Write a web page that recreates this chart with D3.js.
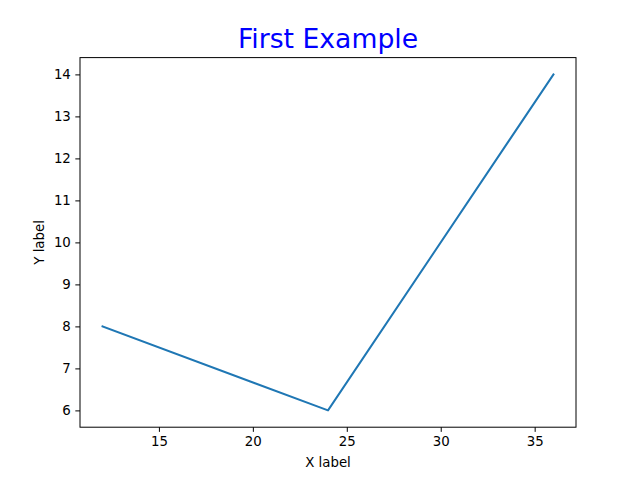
<!DOCTYPE html>
<html><head><meta charset="utf-8">
<script src="https://cdn.jsdelivr.net/npm/d3@7"></script>
<style>body{margin:0;background:#fff}svg text{font-family:"DejaVu Sans",sans-serif}</style>
</head><body>
<script>
const xValues = [12, 24, 36];
const yValues = [8, 6, 14];
const xTicks = [15, 20, 25, 30, 35];
const yTicks = [6, 7, 8, 9, 10, 11, 12, 13, 14];
const titleText = "First Example";
const xLabel = "X label";
const yLabel = "Y label";

const W = 640, H = 480;
const L = 80, R = 576, T = 57.6, B = 427.2;
const svg = d3.select("body").append("svg").attr("width", W).attr("height", H);

const xmin = d3.min(xValues), xmax = d3.max(xValues);
const ymin = d3.min(yValues), ymax = d3.max(yValues);
const xm = (xmax - xmin) * 0.05, ym = (ymax - ymin) * 0.05;
const x = d3.scaleLinear().domain([xmin - xm, xmax + xm]).range([L, R]);
const y = d3.scaleLinear().domain([ymin - ym, ymax + ym]).range([B, T]);

const data = xValues.map((v, i) => [v, yValues[i]]);
svg.append("path").datum(data)
  .attr("d", d3.line().x(d => x(d[0])).y(d => y(d[1])))
  .attr("fill", "none").attr("stroke", "#1f77b4").attr("stroke-width", 2)
  .attr("stroke-linecap", "square").attr("stroke-linejoin", "round");

const xa = svg.append("g").attr("transform", `translate(0,${B})`)
  .call(d3.axisBottom(x).tickValues(xTicks).tickSize(4.67).tickPadding(4.5).tickFormat(d3.format("d")));
const ya = svg.append("g").attr("transform", `translate(${L},0)`)
  .call(d3.axisLeft(y).tickValues(yTicks).tickSize(4.67).tickPadding(4.5).tickFormat(d3.format("d")));
[xa, ya].forEach(g => {
  g.select(".domain").remove();
  g.selectAll("text").attr("font-size", "13.33px").attr("fill", "#000").style("font-family", '"DejaVu Sans",sans-serif');
  g.selectAll("line").attr("stroke", "#000").attr("stroke-width", 1);
});

svg.append("rect").attr("x", L).attr("y", T).attr("width", R - L).attr("height", B - T)
  .attr("fill", "none").attr("stroke", "#000").attr("stroke-width", 1);

svg.append("text").attr("x", (L + R) / 2).attr("y", 48).attr("text-anchor", "middle")
  .attr("font-size", "26.67px").attr("fill", "blue").text(titleText);
svg.append("text").attr("x", (L + R) / 2).attr("y", 467).attr("text-anchor", "middle")
  .attr("font-size", "13.33px").attr("fill", "#000").text(xLabel);
svg.append("text").attr("transform", `translate(44,${(T + B) / 2}) rotate(-90)`).attr("text-anchor", "middle")
  .attr("font-size", "13.33px").attr("fill", "#000").text(yLabel);
</script>
</body></html>
